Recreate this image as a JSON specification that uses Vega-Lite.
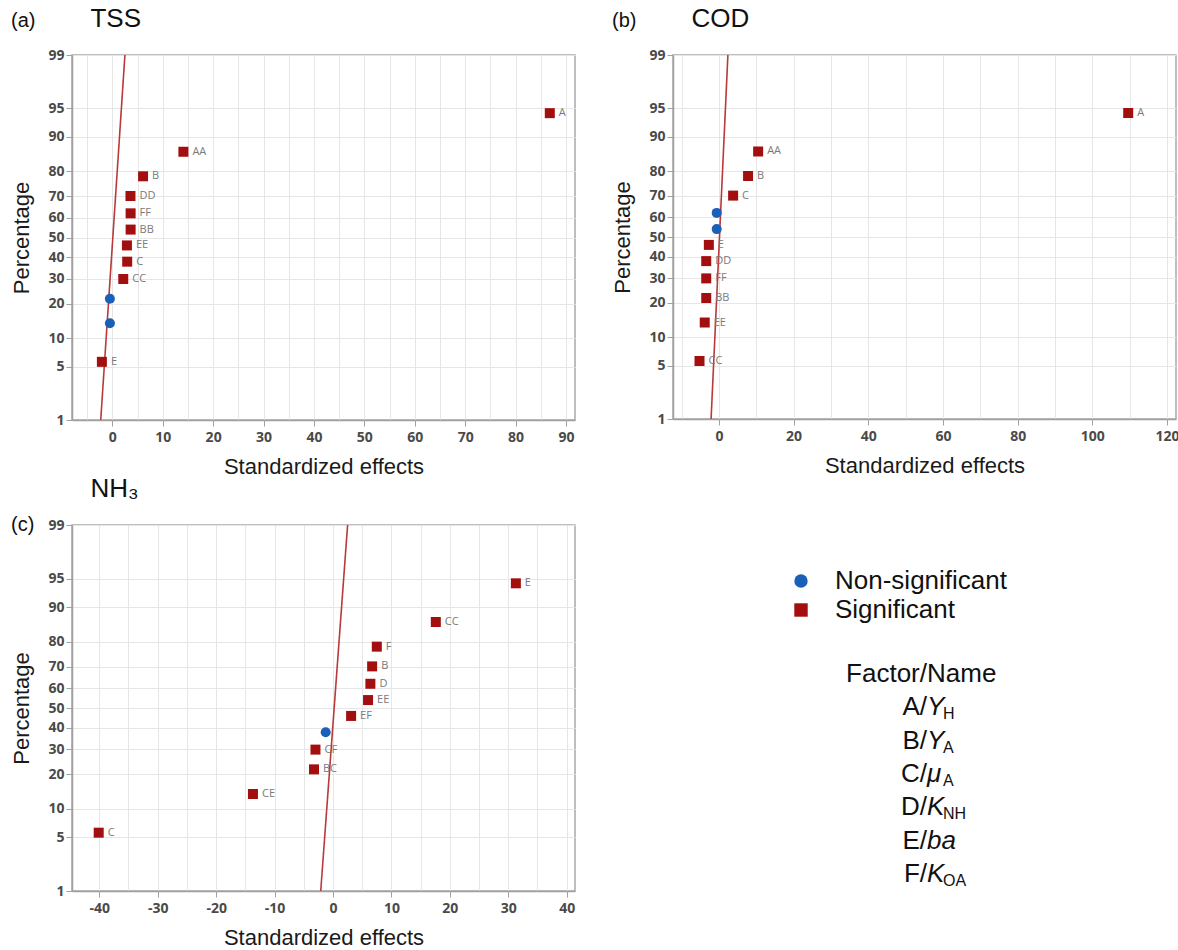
{
  "$schema": "https://vega.github.io/schema/vega-lite/v6.json",
  "background": "white",
  "padding": {"left": 10, "top": 5, "right": 5, "bottom": 5},
  "datasets": {
    "tss": [
      {"effect": -2.07, "z": -1.585, "label": "E", "sig": "Significant"},
      {"effect": -0.48, "z": -1.093, "label": "", "sig": "Non-significant"},
      {"effect": -0.48, "z": -0.78, "label": "", "sig": "Non-significant"},
      {"effect": 2.17, "z": -0.529, "label": "CC", "sig": "Significant"},
      {"effect": 2.95, "z": -0.308, "label": "C", "sig": "Significant"},
      {"effect": 2.9, "z": -0.101, "label": "EE", "sig": "Significant"},
      {"effect": 3.63, "z": 0.101, "label": "BB", "sig": "Significant"},
      {"effect": 3.63, "z": 0.308, "label": "FF", "sig": "Significant"},
      {"effect": 3.6, "z": 0.529, "label": "DD", "sig": "Significant"},
      {"effect": 6.1, "z": 0.78, "label": "B", "sig": "Significant"},
      {"effect": 14.1, "z": 1.093, "label": "AA", "sig": "Significant"},
      {"effect": 86.8, "z": 1.585, "label": "A", "sig": "Significant"}
    ],
    "tss_line": [
      {"effect": -2.3, "z": -2.326348},
      {"effect": 2.5, "z": 2.326348}
    ],
    "cod": [
      {"effect": -5.2, "z": -1.585, "label": "CC", "sig": "Significant"},
      {"effect": -3.8, "z": -1.093, "label": "EE", "sig": "Significant"},
      {"effect": -3.4, "z": -0.78, "label": "BB", "sig": "Significant"},
      {"effect": -3.4, "z": -0.529, "label": "FF", "sig": "Significant"},
      {"effect": -3.4, "z": -0.308, "label": "DD", "sig": "Significant"},
      {"effect": -2.7, "z": -0.101, "label": "E", "sig": "Significant"},
      {"effect": -0.6, "z": 0.101, "label": "", "sig": "Non-significant"},
      {"effect": -0.6, "z": 0.308, "label": "", "sig": "Non-significant"},
      {"effect": 3.8, "z": 0.529, "label": "C", "sig": "Significant"},
      {"effect": 7.8, "z": 0.78, "label": "B", "sig": "Significant"},
      {"effect": 10.5, "z": 1.093, "label": "AA", "sig": "Significant"},
      {"effect": 109.6, "z": 1.585, "label": "A", "sig": "Significant"}
    ],
    "cod_line": [
      {"effect": -2.1, "z": -2.326348},
      {"effect": 2.4, "z": 2.326348}
    ],
    "nh3": [
      {"effect": -40.1, "z": -1.585, "label": "C", "sig": "Significant"},
      {"effect": -13.7, "z": -1.093, "label": "CE", "sig": "Significant"},
      {"effect": -3.25, "z": -0.78, "label": "BC", "sig": "Significant"},
      {"effect": -3.0, "z": -0.529, "label": "CF", "sig": "Significant"},
      {"effect": -1.25, "z": -0.308, "label": "", "sig": "Non-significant"},
      {"effect": 3.1, "z": -0.101, "label": "EF", "sig": "Significant"},
      {"effect": 6.0, "z": 0.101, "label": "EE", "sig": "Significant"},
      {"effect": 6.4, "z": 0.308, "label": "D", "sig": "Significant"},
      {"effect": 6.7, "z": 0.529, "label": "B", "sig": "Significant"},
      {"effect": 7.5, "z": 0.78, "label": "F", "sig": "Significant"},
      {"effect": 17.6, "z": 1.093, "label": "CC", "sig": "Significant"},
      {"effect": 31.3, "z": 1.585, "label": "E", "sig": "Significant"}
    ],
    "nh3_line": [
      {"effect": -2.1, "z": -2.326348},
      {"effect": 2.5, "z": 2.326348}
    ],
    "factors": [
      {"row": 0, "left": "Factor/", "right": "Name", "sub": "", "italic": false},
      {"row": 1, "left": "A/", "right": "Y", "sub": "H", "italic": true},
      {"row": 2, "left": "B/", "right": "Y", "sub": "A", "italic": true},
      {"row": 3, "left": "C/", "right": "μ", "sub": "A", "italic": true},
      {"row": 4, "left": "D/", "right": "K", "sub": "NH", "italic": true},
      {"row": 5, "left": "E/", "right": "ba", "sub": "", "italic": true},
      {"row": 6, "left": "F/", "right": "K", "sub": "OA", "italic": true}
    ]
  },
  "vconcat": [
    {
      "spacing": 35,
      "hconcat": [
        {
          "width": 503,
          "height": 365,
          "title": {"text": "\u200b\u00a0\u00a0\u00a0\u00a0\u00a0\u00a0\u00a0\u00a0\u00a0\u00a0\u00a0TSS", "subtitle": "(a)", "subtitlePadding": -21, "offset": 16},
          "encoding": {
            "x": {"field": "effect", "type": "quantitative", "title": "Standardized effects",
              "scale": {"domain": [-8, 91.8], "nice": false, "zero": false},
              "axis": {"values": [-5, 0, 5, 10, 15, 20, 25, 30, 35, 40, 45, 50, 55, 60, 65, 70, 75, 80, 85, 90],
                "labelExpr": "datum.value % 10 === 0 ? '' + datum.value : ''",
                "tickOpacity": {"condition": {"test": "datum.value % 10 !== 0", "value": 0}, "value": 1}}},
            "y": {"field": "z", "type": "quantitative", "title": "Percentage",
              "scale": {"domain": [-2.326348, 2.326348], "nice": false, "zero": false},
              "axis": {"titlePadding": 14, "values": [-2.326348, -1.644854, -1.281552, -0.841621, -0.524401, -0.253347, 0, 0.253347, 0.524401, 0.841621, 1.281552, 1.644854, 2.326348],
                "labelExpr": "format(cumulativeNormal(datum.value) * 100, '.0f')"}}
          },
          "layer": [
            {"data": {"name": "tss_line"}, "mark": {"type": "line", "color": "#b83a3a", "strokeWidth": 1.6}},
            {"data": {"name": "tss"}, "mark": {"type": "point", "filled": true, "size": 100, "opacity": 1},
              "encoding": {
                "shape": {"field": "sig", "type": "nominal", "title": null, "scale": {"domain": ["Non-significant", "Significant"], "range": ["circle", "square"]}},
                "color": {"field": "sig", "type": "nominal", "title": null, "scale": {"domain": ["Non-significant", "Significant"], "range": ["#1a5fb8", "#a30f0f"]}}
              }},
            {"data": {"name": "tss"}, "mark": {"type": "text", "align": "left", "dx": 9, "fontSize": 11, "font": "Open Sans", "color": "#7a7a7a"},
              "encoding": {"text": {"field": "label"}}}
          ]
        },
        {
          "width": 503,
          "height": 364,
          "title": {"text": "\u200b\u00a0\u00a0\u00a0\u00a0\u00a0\u00a0\u00a0\u00a0\u00a0\u00a0\u00a0COD", "subtitle": "(b)", "subtitlePadding": -21, "offset": 16},
          "encoding": {
            "x": {"field": "effect", "type": "quantitative", "title": "Standardized effects",
              "scale": {"domain": [-12.3, 122.4], "nice": false, "zero": false},
              "axis": {"values": [-10, 0, 10, 20, 30, 40, 50, 60, 70, 80, 90, 100, 110, 120],
                "labelExpr": "datum.value % 20 === 0 ? '' + datum.value : ''",
                "tickOpacity": {"condition": {"test": "datum.value % 20 !== 0", "value": 0}, "value": 1}}},
            "y": {"field": "z", "type": "quantitative", "title": "Percentage",
              "scale": {"domain": [-2.326348, 2.326348], "nice": false, "zero": false},
              "axis": {"titlePadding": 14, "values": [-2.326348, -1.644854, -1.281552, -0.841621, -0.524401, -0.253347, 0, 0.253347, 0.524401, 0.841621, 1.281552, 1.644854, 2.326348],
                "labelExpr": "format(cumulativeNormal(datum.value) * 100, '.0f')"}}
          },
          "layer": [
            {"data": {"name": "cod_line"}, "mark": {"type": "line", "color": "#b83a3a", "strokeWidth": 1.6}},
            {"data": {"name": "cod"}, "mark": {"type": "point", "filled": true, "size": 100, "opacity": 1},
              "encoding": {
                "shape": {"field": "sig", "type": "nominal", "title": null, "scale": {"domain": ["Non-significant", "Significant"], "range": ["circle", "square"]}},
                "color": {"field": "sig", "type": "nominal", "title": null, "scale": {"domain": ["Non-significant", "Significant"], "range": ["#1a5fb8", "#a30f0f"]}}
              }},
            {"data": {"name": "cod"}, "mark": {"type": "text", "align": "left", "dx": 9, "fontSize": 11, "font": "Open Sans", "color": "#7a7a7a"},
              "encoding": {"text": {"field": "label"}}}
          ]
        }
      ]
    },
    {
      "spacing": 101,
      "hconcat": [
        {
          "width": 503,
          "height": 366,
          "title": {"text": "\u200b\u00a0\u00a0\u00a0\u00a0\u00a0\u00a0\u00a0\u00a0\u00a0\u00a0\u00a0NH₃", "subtitle": "(c)", "subtitlePadding": 13, "offset": -17},
          "encoding": {
            "x": {"field": "effect", "type": "quantitative", "title": "Standardized effects",
              "scale": {"domain": [-44.67, 41.42], "nice": false, "zero": false},
              "axis": {"values": [-40, -35, -30, -25, -20, -15, -10, -5, 0, 5, 10, 15, 20, 25, 30, 35, 40],
                "labelExpr": "datum.value % 10 === 0 ? '' + datum.value : ''",
                "tickOpacity": {"condition": {"test": "datum.value % 10 !== 0", "value": 0}, "value": 1}}},
            "y": {"field": "z", "type": "quantitative", "title": "Percentage",
              "scale": {"domain": [-2.326348, 2.326348], "nice": false, "zero": false},
              "axis": {"titlePadding": 14, "values": [-2.326348, -1.644854, -1.281552, -0.841621, -0.524401, -0.253347, 0, 0.253347, 0.524401, 0.841621, 1.281552, 1.644854, 2.326348],
                "labelExpr": "format(cumulativeNormal(datum.value) * 100, '.0f')"}}
          },
          "layer": [
            {"data": {"name": "nh3_line"}, "mark": {"type": "line", "color": "#b83a3a", "strokeWidth": 1.6}},
            {"data": {"name": "nh3"}, "mark": {"type": "point", "filled": true, "size": 100, "opacity": 1},
              "encoding": {
                "shape": {"field": "sig", "type": "nominal", "title": null, "scale": {"domain": ["Non-significant", "Significant"], "range": ["circle", "square"]}},
                "color": {"field": "sig", "type": "nominal", "title": null, "scale": {"domain": ["Non-significant", "Significant"], "range": ["#1a5fb8", "#a30f0f"]}}
              }},
            {"data": {"name": "nh3"}, "mark": {"type": "text", "align": "left", "dx": 9, "fontSize": 11, "font": "Open Sans", "color": "#7a7a7a"},
              "encoding": {"text": {"field": "label"}}}
          ]
        },
        {
          "width": 500,
          "height": 400,
          "view": {"stroke": null},
          "data": {"name": "factors"},
          "encoding": {
            "y": {"field": "row", "type": "quantitative", "axis": null,
              "scale": {"domain": [-4.47, 7.53], "reverse": true, "nice": false, "zero": false}}
          },
          "layer": [
            {"mark": {"type": "text", "align": "right", "fontSize": 26, "font": "Liberation Sans", "color": "#111111"},
              "encoding": {"text": {"field": "left"}}},
            {"transform": [{"filter": "datum.italic"}],
              "mark": {"type": "text", "align": "left", "fontSize": 26, "font": "Liberation Sans", "fontStyle": "italic", "color": "#111111"},
              "encoding": {"text": {"field": "right"}}},
            {"transform": [{"filter": "!datum.italic"}],
              "mark": {"type": "text", "align": "left", "fontSize": 26, "font": "Liberation Sans", "color": "#111111"},
              "encoding": {"text": {"field": "right"}}},
            {"transform": [{"filter": "datum.sub != ''"}],
              "mark": {"type": "text", "align": "left", "dx": 16, "dy": 7, "fontSize": 16, "font": "Liberation Sans", "color": "#111111"},
              "encoding": {"text": {"field": "sub"}}}
          ]
        }
      ]
    }
  ],
  "spacing": -3,
  "config": {
    "view": {"stroke": "#a9a9a9", "strokeWidth": 1.5},
    "axis": {
      "grid": true, "gridColor": "#e6e6e6", "gridWidth": 1,
      "domainColor": "#a0a0a0", "domainWidth": 1.5,
      "tickColor": "#a0a0a0", "tickSize": 6,
      "labelFont": "Open Sans", "labelFontSize": 14, "labelColor": "#4a4a4a", "labelFontWeight": "bold", "labelPadding": 2,
      "titleFont": "Liberation Sans", "titleFontSize": 22, "titleFontWeight": "normal", "titleColor": "#1a1a1a"
    },
    "axisX": {"titlePadding": 12, "labelPadding": 4},
    "title": {
      "font": "Liberation Sans", "fontSize": 26, "fontWeight": "normal", "color": "#111111",
      "anchor": "start", "frame": "bounds",
      "subtitleFont": "Liberation Sans", "subtitleFontSize": 20, "subtitleColor": "#111111"
    },
    "legend": {
      "orient": "none", "legendX": 716, "legendY": 513,
      "symbolSize": 180, "symbolStrokeWidth": 0,
      "labelFont": "Liberation Sans", "labelFontSize": 26, "labelColor": "#111111",
      "labelOffset": 21, "rowPadding": 3, "labelLimit": 400
    }
  }
}
